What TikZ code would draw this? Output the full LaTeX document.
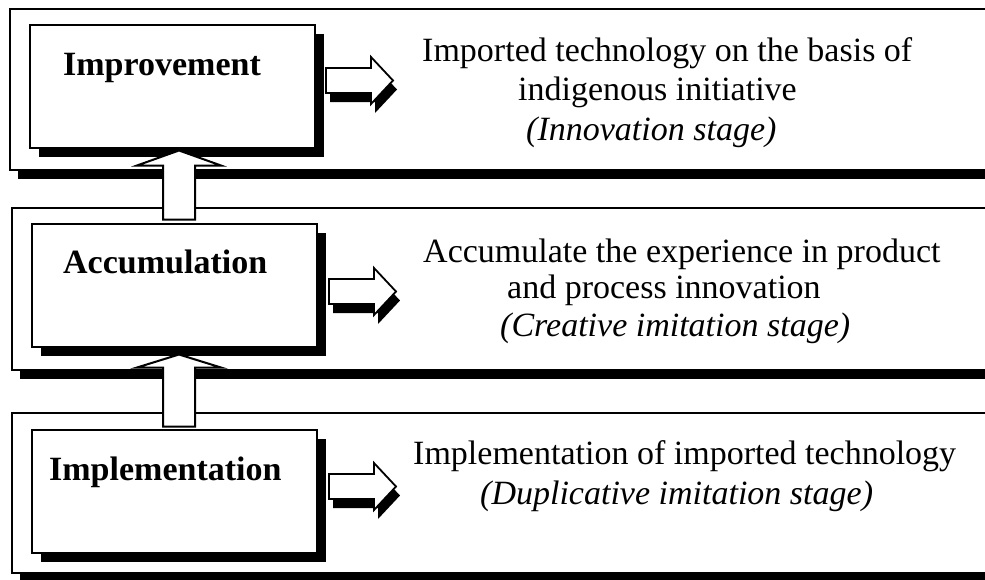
\documentclass[tikz,border=0pt]{standalone}
\usepackage{fontspec}
\setmainfont{Liberation Serif}
\usetikzlibrary{shadows}

\begin{document}
\begin{tikzpicture}[
	x=1pt,
	y=-1pt,
	level/.style={
		draw=black,
		line width=2.2pt,
		fill=white,
		drop shadow={shadow xshift=8pt, shadow yshift=-9pt, fill=black, opacity=1}
	},
	stage/.style={
		rectangle,
		draw=black,
		line width=2pt,
		fill=white,
		inner sep=0pt,
		minimum width=285pt,
		minimum height=123pt,
		drop shadow={shadow xshift=9pt, shadow yshift=-9pt, fill=black, opacity=1}
	},
	stagename/.style={
		anchor=base west,
		inner sep=0pt,
		font=\fontsize{34}{40}\selectfont\bfseries
	},
	desc/.style={
		anchor=base west,
		inner sep=0pt,
		font=\fontsize{34}{40}\selectfont
	},
	uparrow/.style={
		draw=black,
		line width=2pt,
		fill=white
	},
	rightarrow/.style={
		draw=black,
		line width=1.8pt,
		fill=white,
		drop shadow={shadow xshift=4pt, shadow yshift=-9pt, fill=black, opacity=1}
	},
]

\path[use as bounding box, clip] (0,0) rectangle (985,579);

%% Outer boxes %%
\draw[level] (10,9) rectangle (1010,170);
\draw[level] (12,208) rectangle (1010,370);
\draw[level] (12,413) rectangle (1010,573);

%% Stage boxes %%
\node[stage] (impr) at (172,86) {};
\node[stage] (accu) at (174,285) {};
\node[stage] (impl) at (174,491) {};

%% Arrows %%
% bottom to top %
\draw[uparrow] (accu.north) ++(-11,-3) -- ++(0,-54) -- ++(-26,0) -- ++(42,-15) -- ++(42,15) -- ++(-26,0) -- ++(0,54) -- cycle;
\draw[uparrow] (impl.north) ++(-11,-2) -- ++(0,-59) -- ++(-26,0) -- ++(42,-13) -- ++(42,13) -- ++(-26,0) -- ++(0,59) -- cycle;

% left to right %
\draw[rightarrow] (impr.east) ++(10.5,-18) -- ++(45,0) -- ++(0,-11) -- ++(22,23.5) -- ++(-22,23.5) -- ++(0,-11) -- ++(-45,0) -- cycle;
\draw[rightarrow] (accu.east) ++(11.5,-6) -- ++(45,0) -- ++(0,-11) -- ++(22,23.5) -- ++(-22,23.5) -- ++(0,-11) -- ++(-45,0) -- cycle;
\draw[rightarrow] (impl.east) ++(11.5,-17) -- ++(45,0) -- ++(0,-11) -- ++(22,23.5) -- ++(-22,23.5) -- ++(0,-11) -- ++(-45,0) -- cycle;

%% Labels %%
\node[stagename] (imprname) at (63,75) {Improvement};
\node[stagename] (accuname) at (63,273) {Accumulation};
\node[stagename] (implname) at (49,480) {Implementation};

% innovation stage %
\node[desc] (imprtexta) at (422,61) {Imported technology on the basis of};
\node[desc] (imprtextb) at (518,100) {indigenous initiative};
\node[desc] (imprtextc) at (526,140) {\itshape (Innovation stage)};

% creative imitation stage %
\node[desc] (accutexta) at (423,262) {Accumulate the experience in product};
\node[desc] (accutextb) at (507,298) {and process innovation};
\node[desc] (accutextc) at (500,336) {\itshape (Creative imitation stage)};

% duplicative imitation stage %
\node[desc] (impltexta) at (413,464) {Implementation of imported technology};
\node[desc] (impltextb) at (480,504) {\itshape (Duplicative imitation stage)};

\end{tikzpicture}
\end{document}
